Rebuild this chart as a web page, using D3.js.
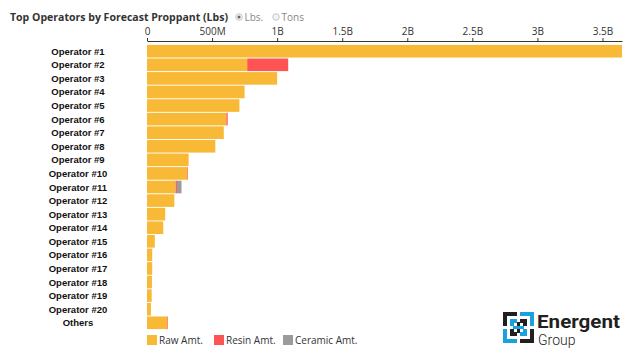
<!DOCTYPE html>
<html><head><meta charset="utf-8">
<script src="https://cdn.jsdelivr.net/npm/d3@7"></script>
<style>body{margin:0;background:#fff;}svg{display:block;font-family:"Open Sans",sans-serif;}</style>
</head><body>
<script>
const categories = ["Operator #1","Operator #2","Operator #3","Operator #4","Operator #5","Operator #6","Operator #7","Operator #8","Operator #9","Operator #10","Operator #11","Operator #12","Operator #13","Operator #14","Operator #15","Operator #16","Operator #17","Operator #18","Operator #19","Operator #20","Others"];
const rawAmt =     [3.65,0.77,1.0,0.75,0.71,0.61,0.59,0.525,0.32,0.31,0.22,0.21,0.14,0.125,0.06,0.04,0.04,0.038,0.036,0.03,0.155];
const resinAmt =   [0,0.315,0,0,0,0.01,0,0,0,0.005,0.01,0,0,0,0,0,0,0,0,0,0.005];
const ceramicAmt = [0,0,0,0,0,0,0,0,0,0,0.035,0,0,0,0,0,0,0,0,0,0];
const tickValues = [0,0.5,1,1.5,2,2.5,3,3.5];
const tickLabels = ["0","500M","1B","1.5B","2B","2.5B","3B","3.5B"];
const seriesNames = ["Raw Amt.","Resin Amt.","Ceramic Amt."];
const colors = ["#F8B936","#FF5454","#9B9B9B"];

const W=640,H=358;
const svg=d3.select("body").append("svg").attr("width",W).attr("height",H);
const x=d3.scaleLinear().domain([0,3.65]).range([147,622]);
const y=d3.scaleBand().domain(categories).range([44.5,329.5]).paddingInner(0.07).paddingOuter(0.03);

// title
svg.append("text").attr("x",10).attr("y",21).attr("font-size",10.5).attr("font-weight","bold").attr("fill","#333")
  .attr("textLength",218).attr("lengthAdjust","spacingAndGlyphs").text("Top Operators by Forecast Proppant (Lbs)");
// radio buttons
const radios=[{x:239,label:"Lbs.",sel:true},{x:276,label:"Tons",sel:false}];
radios.forEach(r=>{
  svg.append("circle").attr("cx",r.x).attr("cy",17).attr("r",3.3).attr("fill","#f2f2f2").attr("stroke","#bbb").attr("stroke-width",0.8);
  if(r.sel) svg.append("circle").attr("cx",r.x).attr("cy",17).attr("r",1.5).attr("fill","#666");
  svg.append("text").attr("x",r.x+5.5).attr("y",20.5).attr("font-size",10).attr("fill","#888").text(r.label);
});

// axis
const axis=d3.axisTop(x).tickValues(tickValues).tickFormat((d,i)=>tickLabels[i]).tickSize(3).tickSizeOuter(0);
const ag=svg.append("g").attr("transform","translate(0,41)").call(axis);
ag.selectAll("text").attr("font-size",10).attr("fill","#333").attr("font-family","Open Sans, sans-serif");
ag.select(".domain").attr("stroke","#333");
ag.selectAll(".tick line").attr("stroke","#333");

// stacked bars
const data=categories.map((c,i)=>({cat:c,raw:rawAmt[i],resin:resinAmt[i],ceramic:ceramicAmt[i]}));
const stack=d3.stack().keys(["raw","resin","ceramic"])(data);
svg.append("g").selectAll("g").data(stack).join("g").attr("fill",(d,i)=>colors[i])
  .selectAll("rect").data(d=>d.map(v=>({v,cat:v.data.cat}))).join("rect")
  .attr("x",d=>x(d.v[0])).attr("width",d=>Math.max(0,x(d.v[1])-x(d.v[0])))
  .attr("y",d=>y(d.cat)).attr("height",y.bandwidth());

// category labels
svg.append("g").selectAll("text").data(categories).join("text")
  .attr("x",78).attr("y",d=>y(d)+y.bandwidth()/2+3.5).attr("text-anchor","middle")
  .attr("font-family","Liberation Sans, Arial, sans-serif").attr("font-weight","bold").attr("font-size",9.5).attr("fill","#111")
  .text(d=>d);

// legend
const legX=[147,214,283];
seriesNames.forEach((s,i)=>{
  svg.append("rect").attr("x",legX[i]).attr("y",335).attr("width",10).attr("height",10).attr("fill",colors[i]);
  svg.append("text").attr("x",legX[i]+12).attr("y",344).attr("font-size",10).attr("fill","#333").text(s);
});

// logo
const lg=svg.append("g").attr("transform","translate(503,312)");
const blue="#1BA1E2", blk="#231F20";
const piece=(px,py,w,h,c)=>lg.append("rect").attr("x",px).attr("y",py).attr("width",w).attr("height",h).attr("fill",c);
piece(0,0,14,4,blk); piece(0,0,4,14,blk);
piece(17,0,14,4,blue); piece(27,0,4,14,blue);
piece(0,27,14,4,blue); piece(0,17,4,14,blue);
piece(17,27,14,4,blk); piece(27,17,4,14,blk);
piece(7,7,7,4,blue); piece(7,7,4,7,blue);
piece(17,7,7,4,blk); piece(20,7,4,7,blk);
piece(7,20,7,4,blk); piece(7,17,4,7,blk);
piece(17,20,7,4,blue); piece(20,17,4,7,blue);
piece(14,10,3,11,blk); piece(10,14,11,3,blue);
lg.append("text").attr("x",34).attr("y",16).attr("font-family","Roboto, sans-serif").attr("font-weight","bold").attr("font-size",18).attr("fill",blk)
  .attr("textLength",83).attr("lengthAdjust","spacingAndGlyphs").text("Energent");
lg.append("text").attr("x",35).attr("y",33).attr("font-family","Roboto, sans-serif").attr("font-weight","300").attr("font-size",14).attr("fill",blk).text("Group");
</script>
</body></html>
